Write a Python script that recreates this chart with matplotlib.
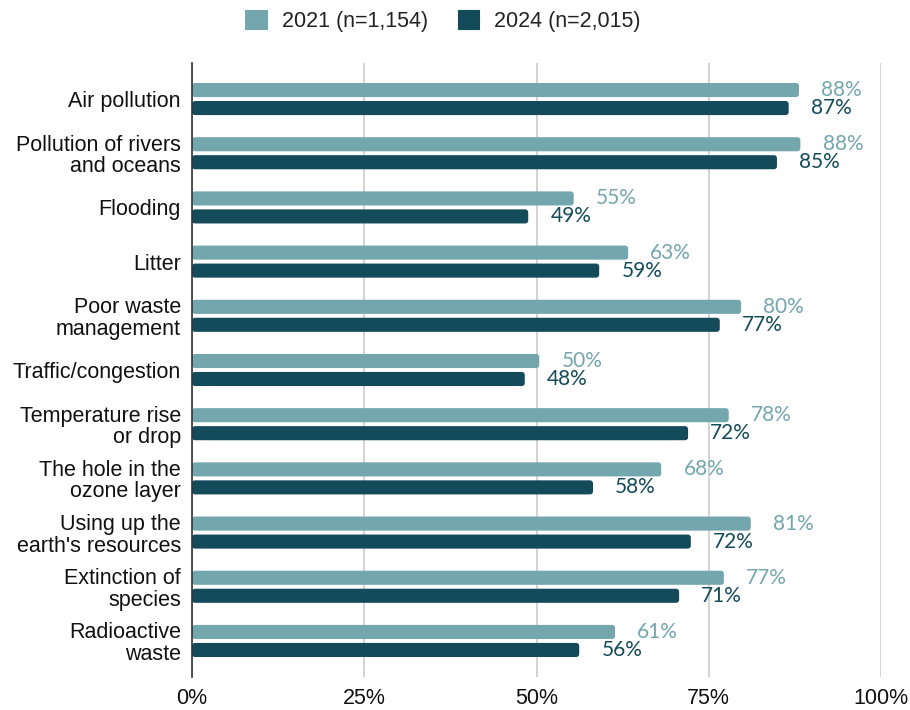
import matplotlib
matplotlib.use("Agg")
import matplotlib.pyplot as plt
from matplotlib.patches import FancyBboxPatch, Patch
import numpy as np

categories = ["Air pollution", "Pollution of rivers\nand oceans", "Flooding", "Litter",
              "Poor waste\nmanagement", "Traffic/congestion", "Temperature rise\nor drop",
              "The hole in the\nozone layer", "Using up the\nearth's resources",
              "Extinction of\nspecies", "Radioactive\nwaste"]
values_2021 = [88.1, 88.3, 55.4, 63.3, 79.7, 50.4, 77.9, 68.1, 81.1, 77.2, 61.4]
values_2024 = [86.6, 84.9, 48.8, 59.1, 76.6, 48.3, 72.0, 58.2, 72.4, 70.7, 56.2]
series_labels = ["2021 (n=1,154)", "2024 (n=2,015)"]
xticks = [0, 25, 50, 75, 100]
xtick_labels = ["0%", "25%", "50%", "75%", "100%"]

c21 = "#74a6ae"
c24 = "#134b5a"

W, H = 910, 710
fig = plt.figure(figsize=(W / 100, H / 100), dpi=100)
ax_l, ax_b, ax_w, ax_h = 192 / W, 1 - 677 / H, (881 - 192) / W, (677 - 63) / H
ax = fig.add_axes([ax_l, ax_b, ax_w, ax_h])

y = np.arange(len(categories))
off = 0.166
bh = 0.26
ylim = (len(categories) - 1 + 0.665, -0.665)
ax.set_xlim(0, 100)
ax.set_ylim(*ylim)

# pixel scales for rounding
px_per_x = ax_w * W / 100.0
px_per_y = ax_h * H / abs(ylim[0] - ylim[1])
r_px = 3.0
aspect = px_per_x / px_per_y

for vals, yoff, col in [(values_2021, -off, c21), (values_2024, off, c24)]:
    bars = ax.barh(y + yoff, vals, height=bh, color=col)
    for rect in list(bars):
        x0, y0 = rect.get_x(), rect.get_y()
        w, h = rect.get_width(), rect.get_height()
        rect.remove()
        p = FancyBboxPatch((x0, y0), w, h,
                           boxstyle=f"round,pad=0,rounding_size={r_px / px_per_x}",
                           mutation_aspect=aspect, facecolor=col, edgecolor="none",
                           zorder=3)
        ax.add_patch(p)

lab_font = ["Lato", "DejaVu Sans"]
for yi, v in zip(y, values_2021):
    ax.annotate(f"{round(v)}%", (v, yi - off), xytext=(16, 0), textcoords="offset points",
                va="center", ha="left", color=c21, fontsize=15, family=lab_font)
for yi, v in zip(y, values_2024):
    ax.annotate(f"{round(v)}%", (v, yi + off), xytext=(16, 0), textcoords="offset points",
                va="center", ha="left", color=c24, fontsize=15, family=lab_font)

txt_font = ["Liberation Sans", "DejaVu Sans"]
ax.set_yticks(y)
ax.set_yticklabels(categories, fontsize=15.5, family=txt_font,
                   color="#111111", linespacing=1.03)
ax.tick_params(axis="y", length=0, pad=8)
ax.set_xticks(xticks)
ax.set_xticklabels(xtick_labels, fontsize=15.5, family=txt_font, color="#111111")
ax.tick_params(axis="x", length=0, pad=8)
ax.grid(axis="x", color="#cccccc", linewidth=1.2, zorder=0)
ax.set_axisbelow(True)
for s in ["top", "right", "bottom"]:
    ax.spines[s].set_visible(False)
ax.spines["left"].set_color("#333333")
ax.spines["left"].set_linewidth(1.2)
ax.spines["left"].set_zorder(4)

handles = [Patch(facecolor=c21, edgecolor=c21, linewidth=0.8, joinstyle="round"),
           Patch(facecolor=c24, edgecolor=c24, linewidth=0.8, joinstyle="round")]
leg = fig.legend(handles, series_labels, loc="center", bbox_to_anchor=(443 / W, 1 - 21 / H),
                 ncol=2, frameon=False, prop={"family": txt_font, "size": 15.5},
                 handlelength=1.0, handleheight=1.0, handletextpad=0.7, columnspacing=1.4)
for t in leg.get_texts():
    t.set_color("#222222")

fig.savefig("out.png", dpi=100, facecolor="white")
